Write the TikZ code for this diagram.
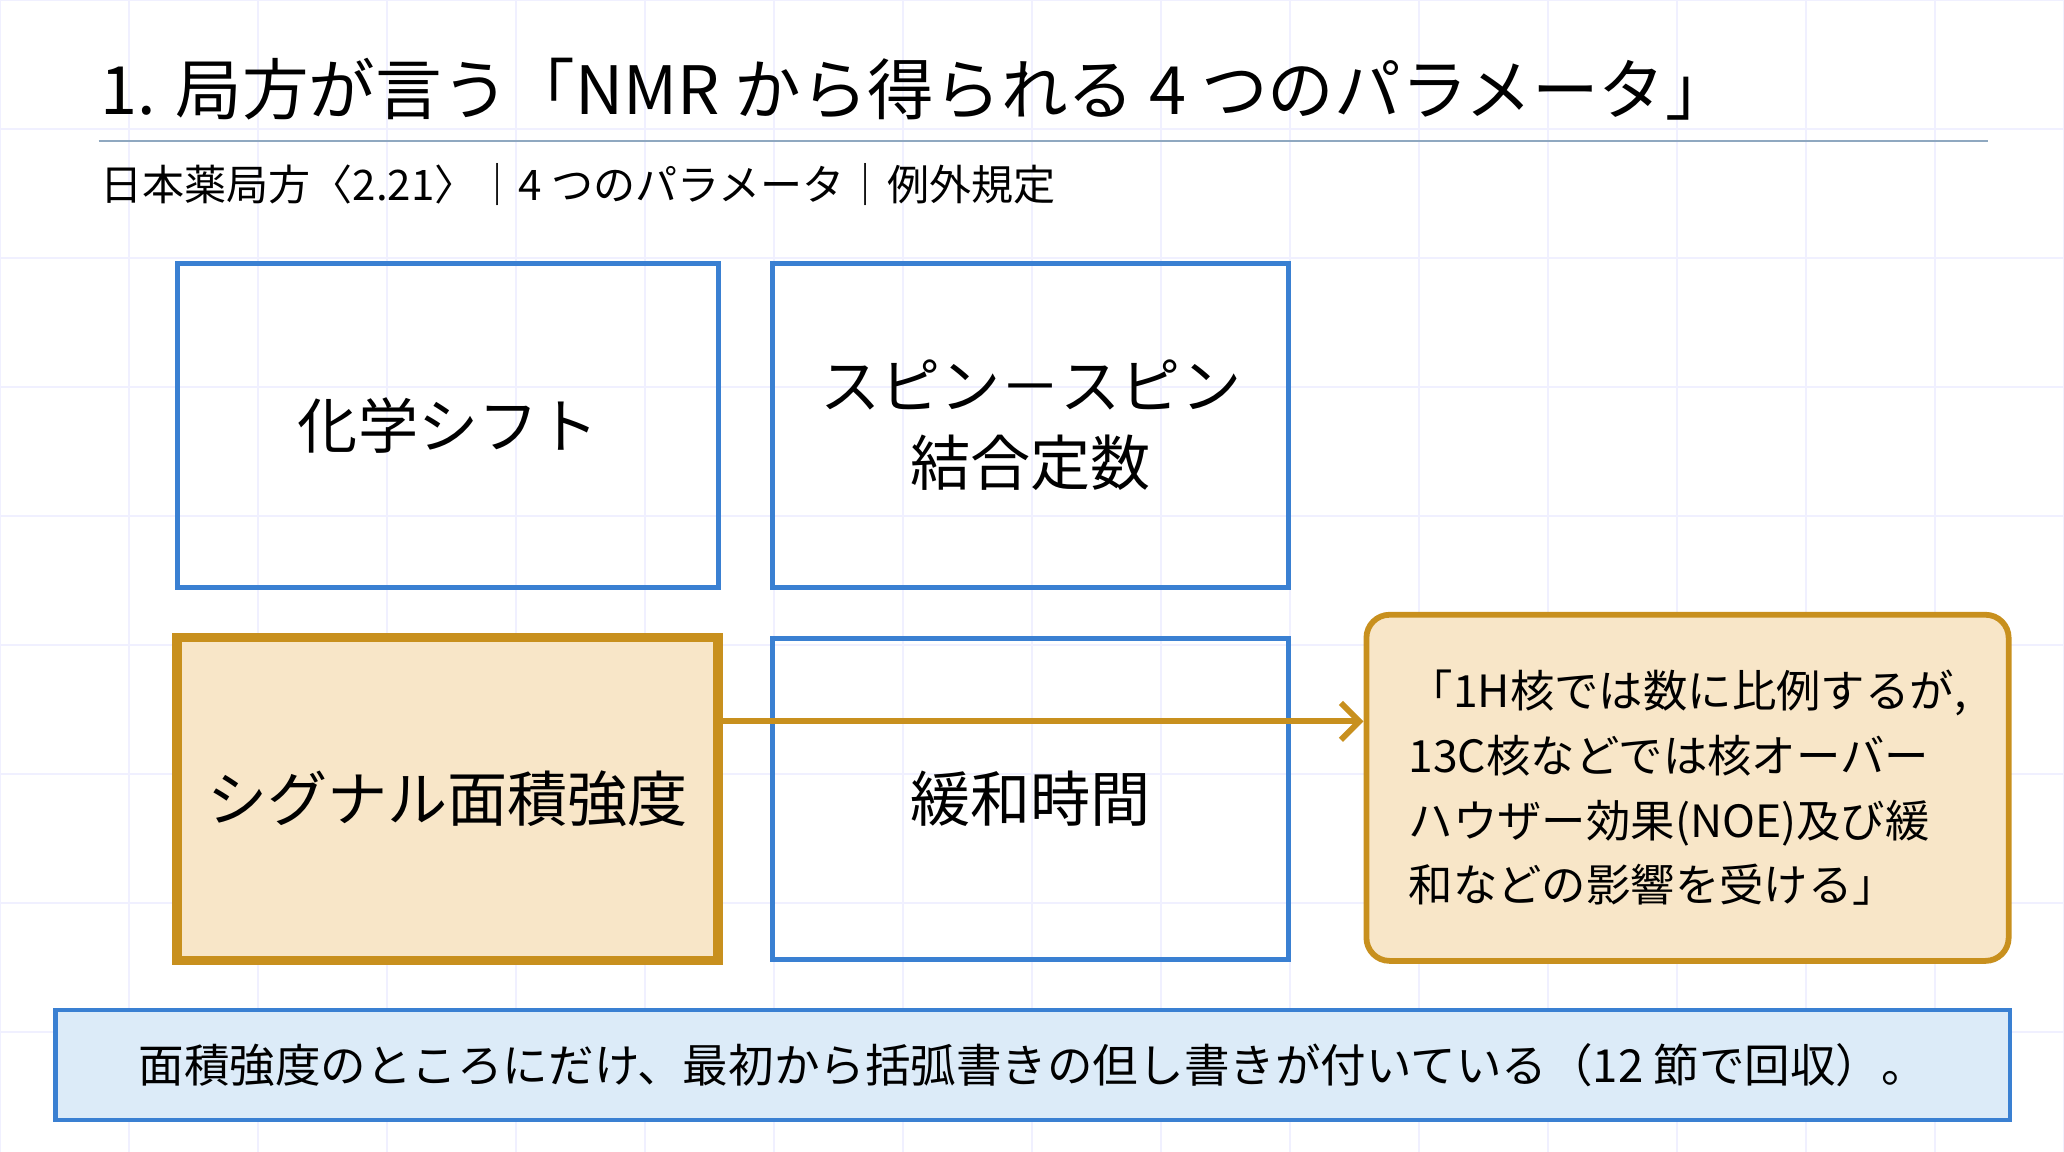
\documentclass[tikz,border=0pt]{standalone}
\usepackage{fontspec}
\setmainfont{Noto Sans CJK JP}
\usetikzlibrary{arrows.meta,positioning,calc}
\definecolor{boxblue}{HTML}{3A80D2}
\definecolor{boxgold}{HTML}{C8901E}
\definecolor{goldfill}{HTML}{F8E6C8}
\definecolor{notefill}{HTML}{DCEBF8}
\definecolor{rulegray}{HTML}{8FA8C0}
\tikzset{param/.style={draw=boxblue, line width=2.2pt, align=center, inner sep=0pt, font=\fontsize{26}{33}\selectfont},
  key/.style={param, draw=boxgold, line width=4pt, fill=goldfill}}
\begin{document}
\begin{tikzpicture}[x=0.02cm,y=-0.02cm]
    \useasboundingbox (0,0) rectangle (1568,875);
    % faint grid in the background
    \foreach \g in {0,98,...,1568} {\draw[blue!6, line width=0.6pt] (\g,0) -- (\g,875);}
    \foreach \g in {0,98,...,875} {\draw[blue!6, line width=0.6pt] (0,\g) -- (1568,\g);}
    % title and subtitle
    \node (title)[anchor=west, font=\fontsize{28.8}{34}\selectfont] at (70,68) {1. 局方が言う「NMR から得られる 4 つのパラメータ」};
    \draw[rulegray, line width=0.8pt] (75,107) coordinate (ruleA) -- (1510,107) coordinate (ruleB);
    \node (sub)[anchor=west, font=\fontsize{18.2}{22}\selectfont] at (70,140) {日本薬局方〈2.21〉｜4 つのパラメータ｜例外規定};
    % the four parameters
    \node (shift)[param, minimum width=8.22cm, minimum height=4.92cm] at (340.5,323) {化学シフト};
    \node (coupling)[param, minimum width=7.84cm, minimum height=4.92cm] at (783,323) {スピン－スピン\\結合定数};
    \node (area)[key, minimum width=8.22cm, minimum height=4.9cm] at (340,607) {シグナル面積強度};
    \node (relax)[param, minimum width=7.84cm, minimum height=4.88cm] at (783,607) {緩和時間};
    \node (quote)[draw=boxgold, line width=2.5pt, fill=goldfill, rounded corners=10pt, minimum width=9.76cm, minimum height=5.26cm, align=left, inner sep=0pt, font=\fontsize{19.2}{28}\selectfont] at (1282,598.5) {「1H核では数に比例するが,\\13C核などでは核オーバー\\ハウザー効果(NOE)及び緩\\和などの影響を受ける」};
    % connect the key parameter to the quote
    \draw[boxgold, line width=2.5pt, -{Straight Barb[length=8pt,width=16pt]}] ([yshift=1.18cm]area.east) -- ([yshift=1.18cm]area.east -| quote.west);
    % bottom remark
    \node (remark)[draw=boxblue, line width=1.8pt, fill=notefill, minimum width=29.7cm, minimum height=1.68cm, font=\fontsize{19.7}{23}\selectfont] at (784.5,809) {面積強度のところにだけ、最初から括弧書きの但し書きが付いている（12 節で回収）。};
\end{tikzpicture}
\end{document}
